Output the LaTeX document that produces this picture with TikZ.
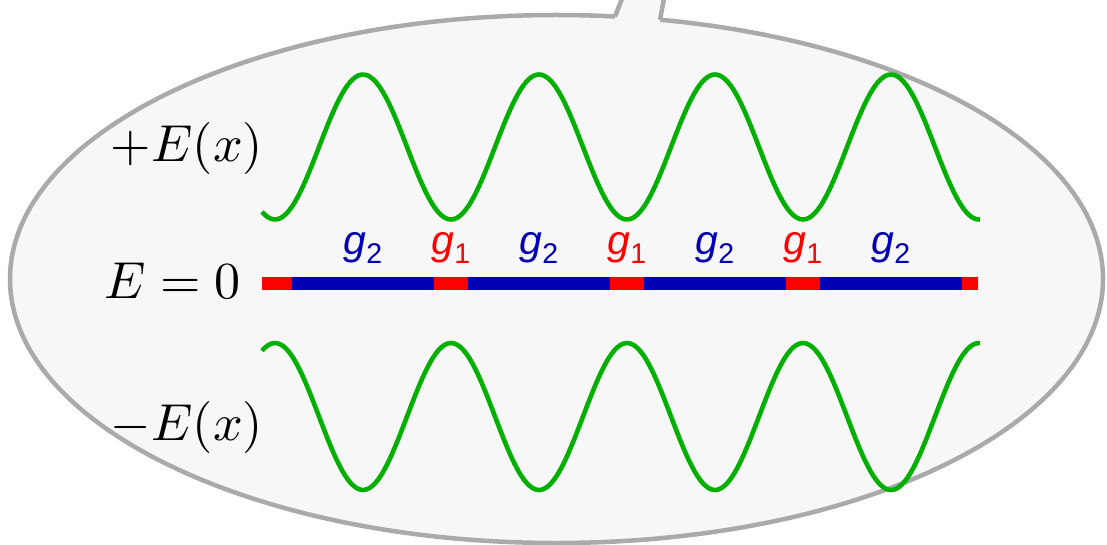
\documentclass[tikz,border=0pt]{standalone}
\usepackage{fontspec}
\newfontfamily\lsans{Liberation Sans}
\definecolor{bubblefill}{RGB}{247,247,247}
\definecolor{bubbleline}{RGB}{168,171,169}
\definecolor{wavegreen}{RGB}{0,176,0}
\definecolor{gblue}{RGB}{0,0,178}
\definecolor{gred}{RGB}{255,0,0}
\newcommand{\gsym}[1]{{\lsans\fontsize{41}{44}\selectfont\itshape g\raisebox{-8.6pt}{\fontsize{28.5}{30}\selectfont\upshape #1}}}
\tikzset{
  bubble/.style={fill=bubblefill, draw=bubbleline, line width=4.5pt},
  wave/.style={draw=wavegreen, line width=4.6pt, line cap=butt},
  glab/.style={inner sep=0pt, anchor=base},
  elab/.style={inner sep=0pt, anchor=base east, scale=5.2, font=\fontsize{10}{12}\selectfont},
}
\begin{document}
\begin{tikzpicture}[x=1pt,y=-1pt]
\useasboundingbox (0,0) rectangle (1107,545);
% speech bubble
\coordinate (ctr) at (556.5,279);
\path[bubble] (ctr) ellipse [x radius=546.5pt, y radius=264pt];
\coordinate (tl0) at (615,16.5);
\coordinate (tl1) at (623,-4);
\coordinate (tr0) at (660,19.8);
\coordinate (tr1) at (664.5,-4);
\fill[bubblefill] (615,24) -- (tl0) -- (tl1) -- (tr1) -- (tr0) -- (660,26) -- cycle;
\draw[draw=bubbleline, line width=4.5pt] (tl0) -- (tl1);
\draw[draw=bubbleline, line width=4.5pt] (tr0) -- (tr1);
% waves
\draw[wave] plot[domain=262:980, samples=240, smooth] (\x, {147 - 72.5*cos(2.0454545*(\x-363))});
\draw[wave] plot[domain=262:980, samples=240, smooth] (\x, {416.5 + 73.5*cos(2.0454545*(\x-363))});
% bar
\fill[gblue] (262,276.5) rectangle (978,290);
\begin{scope}
\clip (262,270) rectangle (978,296);
\foreach \c in {275,451,627,803,979}{
  \fill[gred] (\c-17,276.5) rectangle (\c+17,290);
}
\end{scope}
% g labels
\node[glab, text=gblue] (ga) at (363,254.6) {\gsym{2}};
\node[glab, text=gred]  (gb) at (451,254.6) {\gsym{1}};
\node[glab, text=gblue] (gc) at (539,254.6) {\gsym{2}};
\node[glab, text=gred]  (gd) at (627,254.6) {\gsym{1}};
\node[glab, text=gblue] (ge) at (715,254.6) {\gsym{2}};
\node[glab, text=gred]  (gf) at (803,254.6) {\gsym{1}};
\node[glab, text=gblue] (gg) at (891,254.6) {\gsym{2}};
% left labels
\node[elab] (eplus) at (264,162) {$+E(x)$};
\node[elab] (ezero) at (242,298) {$E=0$};
\node[elab] (eminus) at (264,440) {$-E(x)$};
\end{tikzpicture}
\end{document}
